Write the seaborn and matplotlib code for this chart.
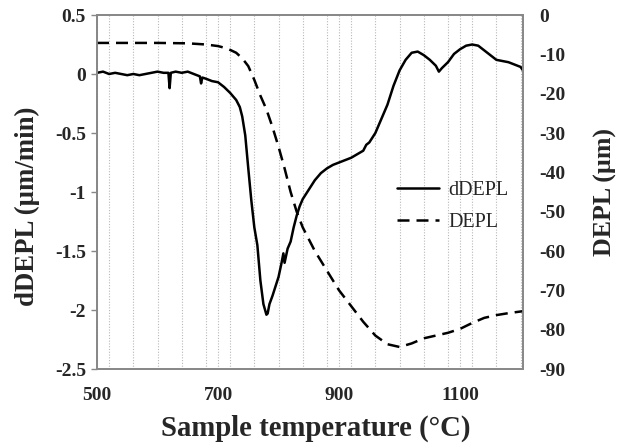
import matplotlib
matplotlib.use("Agg")
import matplotlib.pyplot as plt
import seaborn as sns
import pandas as pd
from matplotlib.ticker import MultipleLocator

# ---- data ----
temp_rate = [500, 510, 520, 530, 540, 550, 560, 570, 580, 590, 600, 610, 618, 620, 622,
             630, 640, 650, 660, 670, 672, 674, 680, 690, 700, 710, 720, 730, 736, 740,
             745, 750, 755, 760, 765, 770, 775, 780, 782, 785, 790, 795, 800, 805, 808,
             810, 815, 820, 825, 830, 835, 840, 850, 860, 870, 880, 890, 900, 910, 920,
             930, 940, 945, 950, 960, 970, 980, 990, 1000, 1010, 1020, 1030, 1040, 1050,
             1060, 1065, 1070, 1080, 1090, 1100, 1110, 1120, 1130, 1140, 1150, 1160, 1170,
             1180, 1190, 1200, 1204]
ddepl = [0.01, 0.02, 0.0, 0.01, 0.0, -0.01, 0.0, -0.01, 0.0, 0.01, 0.02, 0.01, 0.01, -0.12, 0.01,
         0.02, 0.01, 0.02, 0.0, -0.02, -0.08, -0.03, -0.04, -0.06, -0.07, -0.11, -0.16, -0.22, -0.28, -0.36,
         -0.52, -0.8, -1.07, -1.3, -1.45, -1.75, -1.95, -2.04, -2.03, -1.95, -1.88, -1.8, -1.72, -1.6, -1.52,
         -1.6, -1.48, -1.42, -1.3, -1.2, -1.12, -1.06, -0.98, -0.9, -0.84, -0.8, -0.77, -0.75, -0.73, -0.71,
         -0.68, -0.65, -0.6, -0.58, -0.5, -0.38, -0.26, -0.1, 0.03, 0.12, 0.18, 0.19, 0.16, 0.12,
         0.07, 0.02, 0.05, 0.1, 0.17, 0.21, 0.24, 0.25, 0.24, 0.2, 0.16, 0.12, 0.11,
         0.1, 0.08, 0.06, 0.03]

temp_depl = [500, 550, 600, 650, 680, 700, 715, 730, 740, 750, 760, 770, 780, 790, 800,
             810, 820, 830, 840, 850, 860, 870, 880, 890, 900, 920, 940, 960, 980, 1000,
             1020, 1040, 1060, 1080, 1100, 1120, 1140, 1160, 1180, 1204]
depl = [-7.1, -7.1, -7.1, -7.2, -7.5, -7.9, -8.5, -9.6, -11, -13, -16.5, -20.5, -24, -28.5, -33.5,
        -39, -45, -50, -54, -57, -60, -62.5, -65, -67.5, -70, -74, -78, -81.5, -83.7, -84.4,
        -83.5, -82.2, -81.5, -80.8, -79.8, -78.3, -77, -76.3, -75.8, -75.3]

x_major_ticks = [500, 700, 900, 1100]
left_ticks = [0.5, 0, -0.5, -1, -1.5, -2, -2.5]
right_ticks = [0, -10, -20, -30, -40, -50, -60, -70, -80, -90]

df_rate = pd.DataFrame({"T": temp_rate, "v": ddepl})
df_depl = pd.DataFrame({"T": temp_depl, "v": depl})

sns.set_style("white")
plt.rcParams["font.family"] = ["Liberation Serif", "DejaVu Serif"]

W, H = 619, 448
fig = plt.figure(figsize=(W / 100, H / 100), dpi=100)
ax = fig.add_axes([97 / W, (H - 369) / H, 426 / W, 354 / H])
ax2 = ax.twinx()

sns.lineplot(data=df_rate, x="T", y="v", ax=ax, color="black", lw=1.8,
             label="dDEPL", legend=False)
sns.lineplot(data=df_depl, x="T", y="v", ax=ax2, color="black", lw=1.8,
             label="DEPL", legend=False)
ax2.lines[0].set_dashes((4.8, 2.8))

ax.set_xlim(500, 1204)
ax.set_ylim(-2.5, 0.5)
ax2.set_ylim(-90, 0)

ax.set_xticks(x_major_ticks)
ax.xaxis.set_minor_locator(MultipleLocator(40))
ax.set_yticks(left_ticks)
ax.set_yticklabels([("%g" % t) for t in left_ticks])
ax2.set_yticks(right_ticks)
ax2.set_yticklabels([("%g" % t) for t in right_ticks])

ax.grid(False)
ax2.grid(False)
ax.xaxis.grid(True, which="both", color="#b8b8b8", linestyle=(0, (1, 1.5)), lw=0.8)
ax.set_axisbelow(True)

spine_color = "#888888"
for a in (ax, ax2):
    for s in a.spines.values():
        s.set_color(spine_color)
        s.set_linewidth(1.3)

ax.tick_params(axis="y", which="major", direction="out", length=4, width=1, color=spine_color,
               pad=4, labelsize=14)
ax.tick_params(axis="x", which="major", direction="out", length=4, width=1, color=spine_color,
               pad=9, labelsize=14)
ax.tick_params(axis="x", which="minor", direction="out", length=3, width=0.6, color="#b8b8b8")
ax2.tick_params(axis="y", which="major", length=0, pad=12, labelsize=14)
for lab in ax.get_xticklabels() + ax.get_yticklabels() + ax2.get_yticklabels():
    lab.set_fontweight("bold")

ax.set_xlabel("Sample temperature (°C)", fontsize=20.7, fontweight="bold")
ax.set_ylabel("dDEPL (µm/min)", fontsize=19.3, fontweight="bold")
ax2.set_ylabel("DEPL (µm)", fontsize=18.6, fontweight="bold")
# label centres measured on the reference (pixels -> axes fraction)
ax.xaxis.set_label_coords((316 - 97) / 426, (369 - 428) / 354)
ax.yaxis.set_label_coords((27 - 97) / 426, (369 - 206) / 354)
ax2.yaxis.set_label_coords((605 - 97) / 426, (369 - 192) / 354)
ax.xaxis.label.set_va("center")
ax.yaxis.label.set_va("center")
ax2.yaxis.label.set_va("center")

handles = [ax.lines[0], ax2.lines[0]]
ax.legend(handles, ["dDEPL", "DEPL"], loc="center left", bbox_to_anchor=(0.704, 0.459),
          frameon=False, fontsize=14.5, handlelength=2.1, handletextpad=0.45,
          labelspacing=0.65, borderaxespad=0, borderpad=0)

fig.savefig("out.png", dpi=100)
